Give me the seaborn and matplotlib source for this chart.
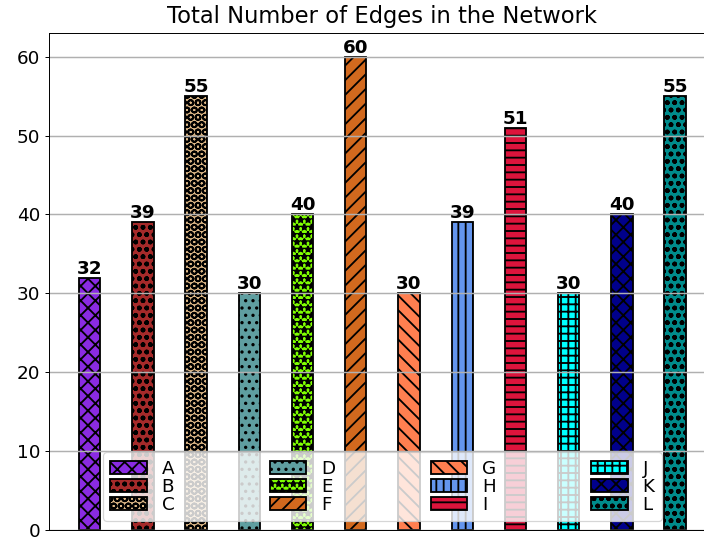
import matplotlib
matplotlib.use("Agg")
import matplotlib.pyplot as plt
import matplotlib.patches as mpatches
import pandas as pd
import seaborn as sns

# data
labels = ["A", "B", "C", "D", "E", "F", "G", "H", "I", "J", "K", "L"]
edges = [32, 39, 55, 30, 40, 60, 30, 39, 51, 30, 40, 55]
colors = ["blueviolet", "brown", "burlywood", "cadetblue", "chartreuse", "chocolate",
          "coral", "cornflowerblue", "crimson", "cyan", "darkblue", "darkcyan"]
hatches = ["xx", "oo", "OO", "..", "**", "//", "\\\\", "||", "--", "++", "xx", "oo"]

df = pd.DataFrame({"label": labels, "edges": edges})

plt.rcParams["font.family"] = "DejaVu Sans"
plt.rcParams["hatch.linewidth"] = 1.5

fig = plt.figure(figsize=(8, 537 / 88), dpi=88)
ax = fig.add_axes([0.0692, 0.013, 0.948, 0.9255])

sns.barplot(data=df, x="label", y="edges", hue="label", palette=colors,
            saturation=1, width=0.4, edgecolor="black", linewidth=1.5,
            errorbar=None, legend=False, ax=ax)

for cont, h in zip(ax.containers, hatches):
    for bar in cont:
        bar.set_hatch(h)
    ax.bar_label(cont, fontsize=15, fontweight="bold", padding=0)

ax.set_xlim(-0.77, 11.77)
ax.set_ylim(0, 63)
ax.set_xticks([])
ax.set_xlabel("")
ax.set_ylabel("")
ax.tick_params(axis="y", labelsize=15)
ax.yaxis.grid(True, color="#b0b0b0", linewidth=1.2)
ax.set_title("Total Number of Edges in the Network", fontsize=18.5, pad=8)

handles = [mpatches.Patch(facecolor=c, edgecolor="black", hatch=h, linewidth=1.5, label=l)
           for l, c, h in zip(labels, colors, hatches)]
ax.legend(handles=handles, ncol=4, loc="lower center", fontsize=15,
          columnspacing=5.2, labelspacing=0)

fig.savefig("out.png", dpi=88)
